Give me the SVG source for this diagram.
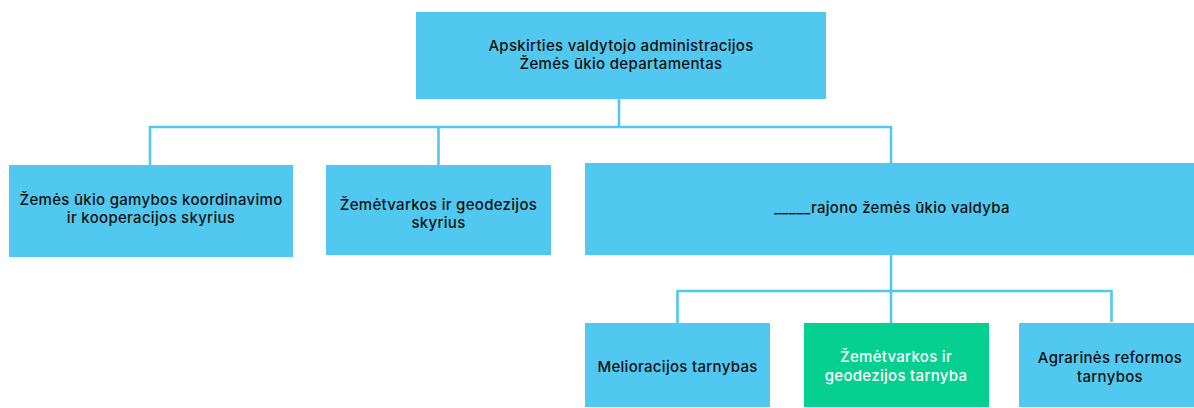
<svg xmlns="http://www.w3.org/2000/svg" width="1194" height="408" viewBox="0 0 1194 408">
<style>
.box{fill:#50c8f0}
.green{fill:#05d08f}
.t{font-family:Inter,"Noto Sans",sans-serif;font-size:15px;font-weight:500;letter-spacing:0.3px;fill:#111;text-anchor:middle}
.w{fill:#fff}
.c{fill:none;stroke:#50c8f0;stroke-width:2.6}
</style>
<rect width="1194" height="408" fill="#fff"/>
<g id="connectors">
<path class="c" d="M619 99V127M150 165V127H891V165M438.5 127V165"/>
<path class="c" d="M891 255V323M677.5 323V291H1111.5V322"/>
</g>
<g id="n0"><rect class="box" x="416" y="12" width="410" height="87"/>
<text class="t" x="621" y="51">Apskirties valdytojo administracijos</text>
<text class="t" x="621" y="69">Žemės ūkio departamentas</text></g>
<g id="n1"><rect class="box" x="9" y="165" width="284" height="92"/>
<text class="t" x="151" y="205">Žemės ūkio gamybos koordinavimo</text>
<text class="t" x="151" y="223">ir kooperacijos skyrius</text></g>
<g id="n2"><rect class="box" x="326" y="165" width="225" height="90"/>
<text class="t" x="438.5" y="210">Žemėtvarkos ir geodezijos</text>
<text class="t" x="438.5" y="228">skyrius</text></g>
<g id="n3"><rect class="box" x="585" y="163" width="609" height="92"/>
<text class="t" x="892" y="213">_____rajono žemės ūkio valdyba</text></g>
<g id="n4"><rect class="box" x="585" y="323" width="185" height="84"/>
<text class="t" x="677.5" y="372">Melioracijos tarnybas</text></g>
<g id="n5"><rect class="green" x="804" y="323" width="185" height="84"/>
<text class="t w" x="896" y="362">Žemėtvarkos ir</text>
<text class="t w" x="896" y="381">geodezijos tarnyba</text></g>
<g id="n6"><rect class="box" x="1019" y="323" width="175" height="84"/>
<text class="t" x="1110" y="363">Agrarinės reformos</text>
<text class="t" x="1110" y="382">tarnybos</text></g>
</svg>
